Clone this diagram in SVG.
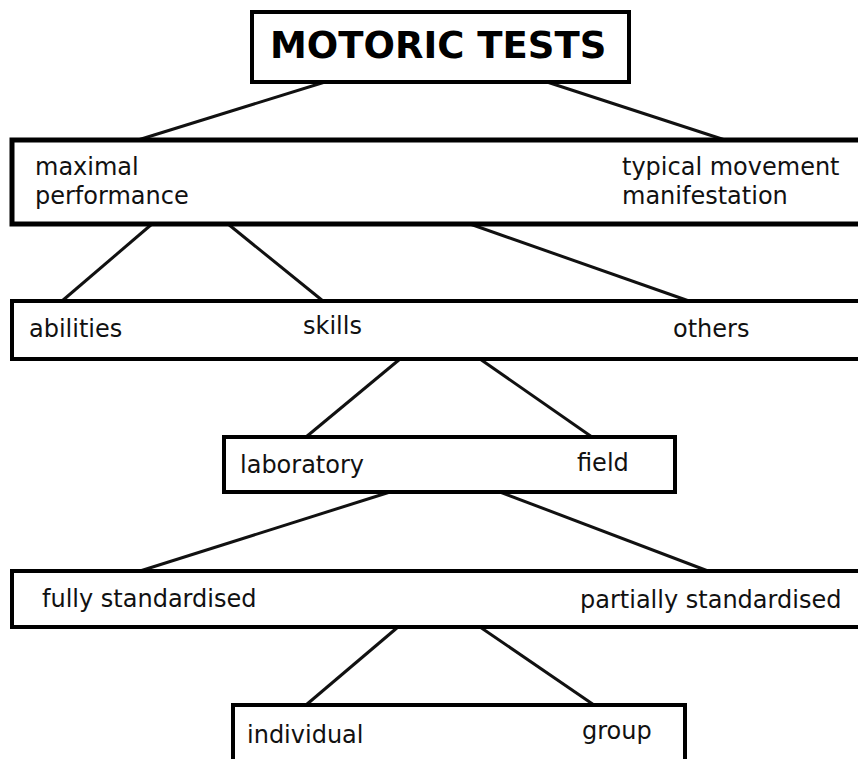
<svg xmlns="http://www.w3.org/2000/svg" width="858" height="759" viewBox="0 0 858 759">
<style>
.box{fill:#fff;stroke:#000;stroke-width:4}
.t{font-family:"DejaVu Sans",sans-serif;font-size:24px;fill:#111}
.title{font-family:"DejaVu Sans",sans-serif;font-size:37px;font-weight:bold;fill:#000}
.c line{stroke:#111;stroke-width:3}
</style>
<rect width="858" height="759" fill="#fff"/>
<g class="c" id="connectors">
<line x1="325" y1="82" x2="138" y2="140"/>
<line x1="547" y1="82" x2="725" y2="140"/>
<line x1="152" y1="224" x2="62" y2="301"/>
<line x1="228" y1="224" x2="323" y2="301"/>
<line x1="470" y1="224" x2="689" y2="301"/>
<line x1="400" y1="359" x2="306" y2="437"/>
<line x1="480" y1="359" x2="592" y2="437"/>
<line x1="390" y1="492" x2="140" y2="571"/>
<line x1="500" y1="492" x2="708" y2="571"/>
<line x1="398" y1="627" x2="306" y2="705"/>
<line x1="480" y1="627" x2="594" y2="705"/>
</g>
<g id="motoric-tests">
<rect class="box" x="252" y="12" width="377" height="70"/>
<text class="title" x="270" y="58">MOTORIC TESTS</text>
</g>
<g id="performance">
<rect class="box" x="12" y="140" width="870" height="84" style="stroke-width:5"/>
<text class="t" x="35" y="175">maximal</text>
<text class="t" x="35" y="204">performance</text>
<text class="t" x="622" y="175">typical movement</text>
<text class="t" x="622" y="204">manifestation</text>
</g>
<g id="abilities-skills">
<rect class="box" x="12" y="301" width="870" height="58"/>
<text class="t" x="29" y="337">abilities</text>
<text class="t" x="303" y="334">skills</text>
<text class="t" x="673" y="337">others</text>
</g>
<g id="lab-field">
<rect class="box" x="224" y="437" width="451" height="55"/>
<text class="t" x="240" y="473">laboratory</text>
<text class="t" x="577" y="471">field</text>
</g>
<g id="standardisation">
<rect class="box" x="12" y="571" width="870" height="56"/>
<text class="t" x="42" y="607">fully standardised</text>
<text class="t" x="580" y="608">partially standardised</text>
</g>
<g id="individual-group">
<rect class="box" x="233" y="705" width="452" height="56"/>
<text class="t" x="247" y="743">individual</text>
<text class="t" x="582" y="739">group</text>
</g>
</svg>
